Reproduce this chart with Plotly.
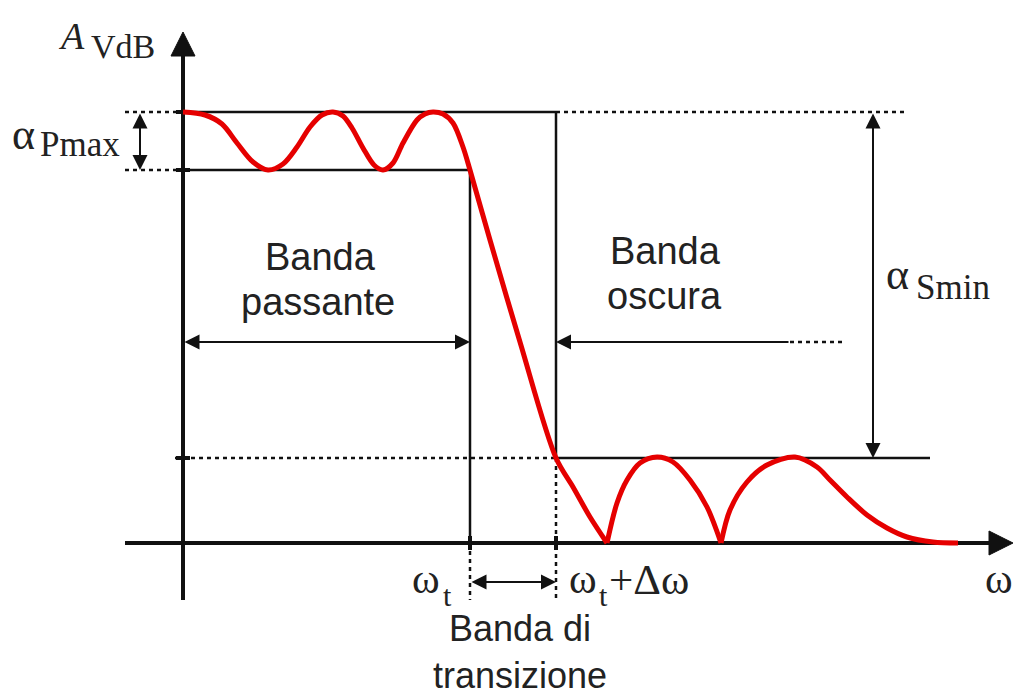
import plotly.graph_objects as go

# ---------------- diagram data (drawing units of the original figure) ----------------
# frequency marks along the horizontal axis
omega_axis_start = 125
omega_origin = 183
omega_t = 470            # passband edge  ω_t
omega_t_dw = 556         # stopband edge  ω_t + Δω
omega_arrow_tip = 1013
# attenuation levels along the vertical axis (top -> bottom)
level_arrow_tip = 32
level_top = 112          # upper limit of passband
level_pmax = 170         # lower limit of passband (α_Pmax below top)
level_smin = 458         # stopband limit (α_Smin below top)
level_axis = 543         # frequency axis
level_axis_bottom = 600

# red response curve, three pieces (ripple passband + fall, two stopband lobes)
seg1_x = [183, 205, 222, 237, 253, 268, 283, 297, 310, 322, 333, 343, 352, 363, 374, 383,
          393, 403, 417, 425, 433, 443, 453, 463, 470, 490, 520, 556, 573, 590, 607]
seg1_y = [112, 115, 124, 143, 162, 170, 164, 147, 127, 115, 112, 116, 128, 148, 165, 170,
          163, 143, 120, 114, 112, 114, 123, 147, 170, 240, 342, 458, 487, 517, 543]
seg2_x = [607, 617, 627, 640, 657, 673, 690, 707, 721]
seg2_y = [543, 503, 480, 463, 457, 462, 480, 507, 543]
seg3_x = [721, 730, 747, 767, 795, 817, 830, 847, 867, 887, 907, 933, 958]
seg3_y = [543, 510, 482, 465, 457, 467, 480, 497, 515, 528, 537, 542, 543]

# dimension arrows
dim_pmax_x = 140
dim_smin_x = 873
band_arrow_y = 342
stop_arrow_tail = 790
stop_arrow_dots_end = 842
trans_arrow_y = 582

# limit-line extents
top_dots_end = 905
smin_line_end = 930
smin_dots_start = 175

RED = "#e50000"
INK = "#111111"
TXT = "#222222"

fig = go.Figure()

def line(x0, y0, x1, y1, width=2.5, dash=None, color=INK):
    fig.add_shape(type="line", x0=x0, y0=y0, x1=x1, y1=y1, xref="x", yref="y",
                  layer="below",
                  line=dict(color=color, width=width, dash=dash or "solid"))

DOT = "4px,4px"

# axes
line(omega_origin, level_arrow_tip + 20, omega_origin, level_axis_bottom, width=4)
line(omega_axis_start, level_axis, omega_arrow_tip - 22, level_axis, width=4)
# arrow heads of the axes
ah, aw = 24, 12
fig.add_shape(type="path", xref="x", yref="y", layer="below", fillcolor=INK,
              line=dict(color=INK, width=1),
              path=f"M{omega_origin},{level_arrow_tip} L{omega_origin-aw},{level_arrow_tip+ah} "
                   f"L{omega_origin+aw},{level_arrow_tip+ah} Z")
fig.add_shape(type="path", xref="x", yref="y", layer="below", fillcolor=INK,
              line=dict(color=INK, width=1),
              path=f"M{omega_arrow_tip},{level_axis} L{omega_arrow_tip-ah},{level_axis-aw} "
                   f"L{omega_arrow_tip-ah},{level_axis+aw} Z")

# axis ticks
for lv in (level_top, level_pmax, level_smin):
    line(omega_origin - 7, lv, omega_origin + 7, lv, width=4)
for om in (omega_t, omega_t_dw):
    line(om, level_axis - 7, om, level_axis + 7, width=4)

# limit lines
line(omega_axis_start, level_top, omega_origin, level_top, dash=DOT)
line(omega_origin, level_top, omega_t_dw, level_top)
line(omega_t_dw, level_top, top_dots_end, level_top, dash=DOT)
line(omega_axis_start, level_pmax, omega_origin, level_pmax, dash=DOT)
line(omega_origin, level_pmax, omega_t, level_pmax)
line(omega_t, level_pmax, omega_t, level_axis)
line(omega_t, level_axis, omega_t, level_axis_bottom, dash=DOT)
line(omega_t_dw, level_top, omega_t_dw, level_smin)
line(omega_t_dw, level_smin, omega_t_dw, level_axis_bottom, dash=DOT)
line(smin_dots_start, level_smin, omega_t_dw, level_smin, dash=DOT)
line(omega_t_dw, level_smin, smin_line_end, level_smin)
line(stop_arrow_tail, band_arrow_y, stop_arrow_dots_end, band_arrow_y, dash=DOT)

# response curve
for xs, ys in ((seg1_x, seg1_y), (seg2_x, seg2_y), (seg3_x, seg3_y)):
    fig.add_trace(go.Scatter(x=xs, y=ys, mode="lines", hoverinfo="skip",
                             line=dict(color=RED, width=5, shape="spline", smoothing=0.9)))

def arrow(hx, hy, tx, ty, both=True):
    fig.add_annotation(x=hx, y=hy, ax=tx, ay=ty, xref="x", yref="y", axref="x", ayref="y",
                       text="", showarrow=True, arrowhead=2, arrowsize=1.5, arrowwidth=2,
                       arrowcolor=INK, arrowside="end+start" if both else "end",
                       standoff=0, startstandoff=0)

arrow(dim_pmax_x, level_pmax, dim_pmax_x, level_top)
arrow(dim_smin_x, level_smin, dim_smin_x, level_top)
arrow(omega_t, band_arrow_y, omega_origin, band_arrow_y)
arrow(omega_t_dw, band_arrow_y, stop_arrow_tail, band_arrow_y, both=False)
arrow(omega_t_dw, trans_arrow_y, omega_t, trans_arrow_y)

SERIF = "Liberation Serif, Times New Roman, serif"
SANS = "Liberation Sans, Arial, sans-serif"

def label(text, x, baseline, size, family, anchor="left", italic=False):
    fig.add_annotation(x=x, y=baseline - 0.30 * size, xref="x", yref="y", text=text,
                       showarrow=False, xanchor=anchor, yanchor="middle",
                       font=dict(family=family, size=size, color=TXT,
                                 style="italic" if italic else "normal"))

label("A", 56, 47, 38, SERIF, italic=True)
label("VdB", 89, 57, 34, SERIF)
label("α", 10, 148, 44, SERIF)
label("Pmax", 38, 155, 35, SERIF)
label("α", 884, 288, 44, SERIF)
label("Smin", 914, 298, 35, SERIF)
label("Banda", 320, 268, 38, SANS, anchor="center")
label("passante", 318, 313, 38, SANS, anchor="center")
label("Banda", 665, 262, 38, SANS, anchor="center")
label("oscura", 664, 307, 38, SANS, anchor="center")
label("ω", 410, 592, 42, SERIF)
label("t", 441, 604, 30, SERIF)
label("ω", 567, 592, 42, SERIF)
label("t", 597, 604, 30, SERIF)
label("+Δω", 607, 592, 43, SERIF)
label("ω", 983, 592, 42, SERIF)

# two-line caption of the transition band, kept inside the picture
fig.add_annotation(x=520, y=697, xref="x", yref="y", text="Banda di<br>transizione",
                   showarrow=False, xanchor="center", yanchor="bottom", align="center",
                   borderpad=0,
                   font=dict(family=SANS, size=36, color=TXT))

fig.update_layout(width=1013, height=697, margin=dict(l=0, r=0, t=0, b=0),
                  paper_bgcolor="white", plot_bgcolor="white", showlegend=False,
                  xaxis=dict(range=[0, 1013], visible=False, fixedrange=True),
                  yaxis=dict(range=[697, 0], visible=False, fixedrange=True))

fig.write_html("out.html", config={"displayModeBar": False},
               post_script="document.body.style.margin='0';document.body.style.overflow='hidden';")
